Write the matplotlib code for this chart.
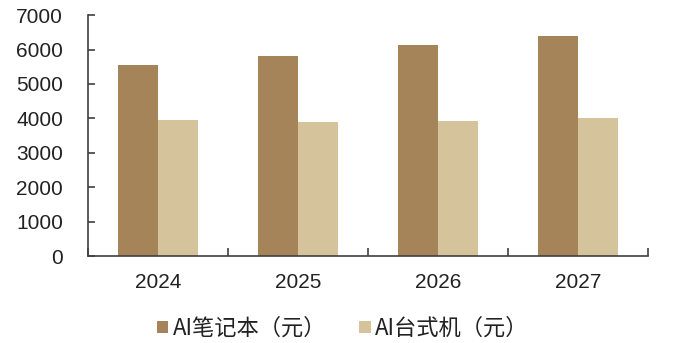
import matplotlib
matplotlib.use("Agg")
import matplotlib.pyplot as plt
import numpy as np
from matplotlib.ticker import FixedLocator, NullFormatter, FixedFormatter

years = ["2024", "2025", "2026", "2027"]
laptop_price = [5540, 5800, 6130, 6400]
desktop_price = [3940, 3900, 3920, 4010]
series_names = ["AI笔记本（元）", "AI台式机（元）"]
y_ticks = [0, 1000, 2000, 3000, 4000, 5000, 6000, 7000]

dark = "#A6845A"
light = "#D5C39B"
axis_color = "#404040"

fig = plt.figure(figsize=(6.75, 3.43), dpi=100)
ax = fig.add_axes([0.1304, 0.2536, 0.8296, 0.7024])

x = np.arange(len(years))
w = 0.283
ax.bar(x - w / 2, laptop_price, width=w, color=dark, label=series_names[0])
ax.bar(x + w / 2, desktop_price, width=w, color=light, label=series_names[1])

ax.set_xlim(-0.5, len(years) - 0.5)
ax.set_ylim(0, 7000)

for s in ["top", "right"]:
    ax.spines[s].set_visible(False)
for s in ["left", "bottom"]:
    ax.spines[s].set_color(axis_color)
    ax.spines[s].set_linewidth(1.2)

ax.set_yticks(y_ticks)
ax.set_yticklabels([str(v) for v in y_ticks], family="Liberation Sans", fontsize=15, color="#222222")
ax.tick_params(axis="y", direction="in", length=5, width=1.2, color=axis_color, pad=18)

# year labels centred on groups, tick marks on group boundaries
ax.xaxis.set_major_locator(FixedLocator(np.arange(-0.5, len(years), 1.0)))
ax.xaxis.set_major_formatter(NullFormatter())
ax.xaxis.set_minor_locator(FixedLocator(x))
ax.xaxis.set_minor_formatter(FixedFormatter(years))
ax.tick_params(axis="x", which="major", direction="in", length=6, width=1.2, color=axis_color)
ax.tick_params(axis="x", which="minor", length=0, pad=12, labelsize=15, labelcolor="#222222")
for lbl in ax.xaxis.get_minorticklabels():
    lbl.set_family("Liberation Sans")

leg = ax.legend(loc="upper center", bbox_to_anchor=(0.455, -0.188), ncol=2, frameon=False,
                prop={"family": ["Noto Sans CJK SC", "DejaVu Sans"], "size": 16},
                handlelength=0.5, handleheight=0.5, handletextpad=0.2, columnspacing=1.5,
                borderpad=0.2)
for t in leg.get_texts():
    t.set_color("#222222")

fig.savefig("out.png", dpi=100, facecolor="white")
